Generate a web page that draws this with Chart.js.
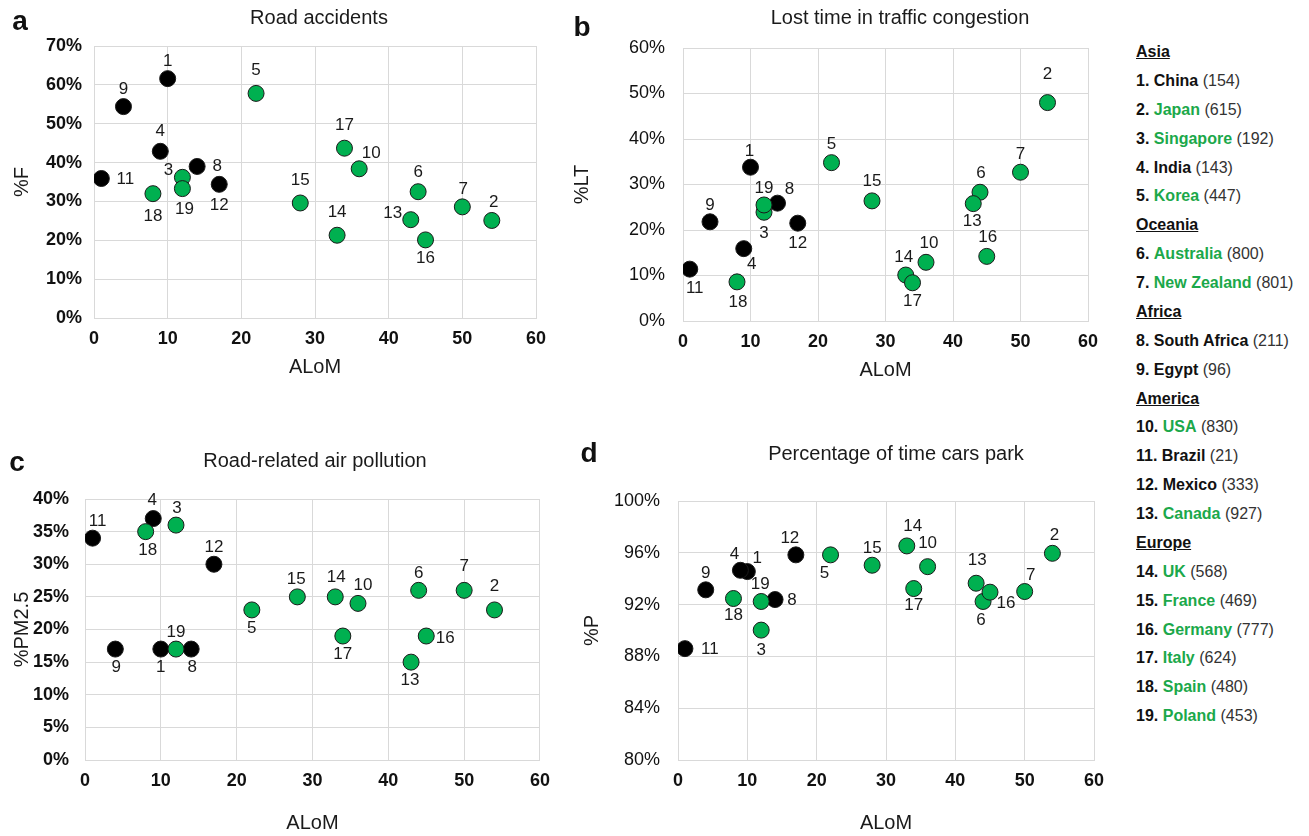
<!DOCTYPE html>
<html>
<head>
<meta charset="utf-8">
<script src="https://cdn.jsdelivr.net/npm/chart.js@4.4.0/dist/chart.umd.min.js"></script>
<style>
  body { margin: 0; background: #fff; font-family: "Liberation Sans", Arial, sans-serif; color: #111; }
  #page { position: relative; width: 1309px; height: 836px; overflow: hidden; }
  .box { position: absolute; }
  .letter { position: absolute; font-weight: bold; font-size: 28px; transform: translate(-50%, -50%); }
  .title { position: absolute; font-size: 20px; white-space: nowrap; transform: translate(-50%, -50%); color: #1a1a1a; }
  #legend { position: absolute; left: 1136px; top: 38px; font-size: 16px; line-height: 28.87px; white-space: nowrap; }
  #legend .head { font-weight: bold; text-decoration: underline; }
  #legend b.green { color: #1ba84a; }
  #legend span.n { color: #333; }
</style>
</head>
<body>
<div id="page">
  <div class="box" style="left:0;top:0;width:560px;height:400px"><canvas id="chartA"></canvas></div>
  <div class="box" style="left:560px;top:0;width:560px;height:400px"><canvas id="chartB"></canvas></div>
  <div class="box" style="left:0;top:420px;width:560px;height:416px"><canvas id="chartC"></canvas></div>
  <div class="box" style="left:560px;top:420px;width:560px;height:416px"><canvas id="chartD"></canvas></div>

  <div class="letter" style="left:20px;top:21px">a</div>
  <div class="letter" style="left:582px;top:27px">b</div>
  <div class="letter" style="left:17px;top:462px">c</div>
  <div class="letter" style="left:589px;top:453px">d</div>

  <div class="title" style="left:319px;top:17px">Road accidents</div>
  <div class="title" style="left:900px;top:17px">Lost time in traffic congestion</div>
  <div class="title" style="left:315px;top:460px">Road-related air pollution</div>
  <div class="title" style="left:896px;top:453px">Percentage of time cars park</div>

  <div id="legend"></div>
</div>

<script>
// countries 1..19
const countryNames = ['China', 'Japan', 'Singapore', 'India', 'Korea', 'Australia', 'New Zealand',
  'South Africa', 'Egypt', 'USA', 'Brazil', 'Mexico', 'Canada', 'UK', 'France', 'Germany',
  'Italy', 'Spain', 'Poland'];
const countryCounts = [154, 615, 192, 143, 447, 800, 801, 211, 96, 830, 21, 333, 927, 568, 469, 777, 624, 480, 453];
const greenCountry = [false, true, true, false, true, true, true, false, false, true, false, false,
  true, true, true, true, true, true, true];
const regionNames = ['Asia', 'Oceania', 'Africa', 'America', 'Europe'];
const regionFirst = [1, 6, 8, 10, 14];

// x values (ALoM) and the four y series (in %)
const aLoM = [10, 54, 12, 9, 22, 44, 50, 14, 4, 36, 1, 17, 43, 33, 28, 45, 34, 8, 12];
const roadAccidents = [61.6, 25.1, 36.2, 42.9, 57.8, 32.5, 28.6, 39.0, 54.4, 38.4, 35.9, 34.4, 25.3, 21.3, 29.6, 20.1, 43.7, 32.0, 33.3];
const lostTime = [33.8, 48.0, 23.9, 15.9, 34.8, 28.3, 32.7, 25.9, 21.8, 12.9, 11.4, 21.5, 25.8, 10.1, 26.4, 14.2, 8.4, 8.6, 25.5];
const airPollution = [17, 23, 36, 37, 23, 26, 26, 17, 17, 24, 34, 30, 15, 25, 25, 19, 19, 35, 17];
const parkTime = [94.55, 95.96, 90.03, 94.65, 95.84, 92.24, 93.01, 92.39, 93.14, 94.93, 88.6, 95.84, 93.65, 96.53, 95.04, 92.96, 93.24, 92.47, 92.24];

// where each number label sits relative to its dot (px)
const labelPosA = [[0,-17],[2,-18],[-14,-7],[0,-20],[0,-23],[0,-19],[1,-18],[20,0],[0,-17],[12,-15],
  [24,1],[0,21],[-18,-6],[0,-23],[0,-23],[0,18],[0,-23],[0,23],[2,21]];
const labelPosB = [[-1,-16],[0,-28],[0,21],[8,16],[0,-18],[1,-19],[0,-18],[12,-14],[0,-16],[3,-19],
  [5,19],[0,20],[-1,18],[-2,-18],[0,-20],[1,-19],[0,19],[1,20],[0,-17]];
const labelPosC = [[0,18],[0,-24],[1,-17],[-1,-18],[0,18],[0,-17],[0,-24],[1,18],[1,18],[5,-18],
  [5,-17],[0,-17],[-1,18],[1,-20],[-1,-18],[19,2],[0,18],[2,19],[0,-17]];
const labelPosD = [[10,-13],[2,-18],[0,20],[-6,-16],[-6,18],[-2,19],[6,-16],[17,1],[0,-17],[0,-23],
  [25,1],[-6,-17],[1,-23],[6,-20],[0,-17],[16,11],[0,17],[0,17],[-1,-17]];

const GREEN = '#00b050';
const GRID = '#d9d9d9';
const FONT = '"Liberation Sans", Arial, sans-serif';

// legend list on the right
const legend = document.getElementById('legend');
let html = '';
for (let i = 0; i < countryNames.length; i++) {
  const r = regionFirst.indexOf(i + 1);
  if (r >= 0) html += '<div class="head">' + regionNames[r] + '</div>';
  html += '<div><b>' + (i + 1) + '.</b> <b class="' + (greenCountry[i] ? 'green' : '') + '">' +
    countryNames[i] + '</b> <span class="n">(' + countryCounts[i] + ')</span></div>';
}
legend.innerHTML = html;

// draws the country number next to each dot
const numberLabels = {
  id: 'numberLabels',
  afterDatasetsDraw(chart, args, opts) {
    const ctx = chart.ctx;
    const meta = chart.getDatasetMeta(0);
    ctx.save();
    ctx.font = '17px ' + FONT;
    ctx.fillStyle = '#1a1a1a';
    ctx.textAlign = 'center';
    ctx.textBaseline = 'middle';
    meta.data.forEach(function(pt, i) {
      const off = opts.pos[i];
      ctx.fillText(String(i + 1), pt.x + off[0], pt.y + off[1]);
    });
    ctx.restore();
  }
};

function makeChart(id, yValues, s) {
  const points = aLoM.map(function(x, i) { return {x: x, y: yValues[i]}; });
  return new Chart(document.getElementById(id), {
    type: 'scatter',
    data: {
      datasets: [{
        data: points,
        backgroundColor: greenCountry.map(function(g) { return g ? GREEN : '#000'; }),
        borderColor: '#1a1a1a',
        borderWidth: 1,
        pointRadius: 8,
        pointHoverRadius: 8
      }]
    },
    plugins: [numberLabels],
    options: {
      responsive: true,
      maintainAspectRatio: false,
      animation: false,
      layout: { padding: { top: s.top, right: s.right, bottom: 0, left: 0 } },
      plugins: {
        legend: { display: false },
        tooltip: { enabled: false },
        numberLabels: { pos: s.labels }
      },
      scales: {
        x: {
          min: 0, max: 60,
          ticks: { stepSize: 10, padding: 10, color: '#111', font: { family: FONT, size: 18, weight: 'bold' } },
          grid: { color: GRID, drawTicks: false },
          border: { color: GRID },
          title: { display: true, text: 'ALoM', color: '#1a1a1a', font: { family: FONT, size: 20 }, padding: { top: 0, bottom: s.xTitlePad } },
          afterFit: function(scale) { scale.height = s.xHeight; }
        },
        y: {
          min: s.yMin, max: s.yMax,
          ticks: {
            stepSize: s.yStep, padding: s.yTickPad, color: '#111',
            font: { family: FONT, size: 18, weight: s.yBold ? 'bold' : 'normal' },
            callback: function(v) { return v + '%'; }
          },
          grid: { color: GRID, drawTicks: false },
          border: { color: GRID },
          title: { display: true, text: s.yTitle, color: '#1a1a1a', font: { family: FONT, size: 20 }, padding: { top: s.yTitlePad, bottom: 0 } },
          afterFit: function(scale) { scale.width = s.yWidth; }
        }
      }
    }
  });
}

makeChart('chartA', roadAccidents, {
  top: 46, right: 24, xHeight: 82, yWidth: 94, yMin: 0, yMax: 70, yStep: 10,
  yTickPad: 12, yBold: true, yTitle: '%F', yTitlePad: 10, xTitlePad: 21, labels: labelPosA
});
makeChart('chartB', lostTime, {
  top: 48, right: 32, xHeight: 79, yWidth: 123, yMin: 0, yMax: 60, yStep: 10,
  yTickPad: 18, yBold: false, yTitle: '%LT', yTitlePad: 10, xTitlePad: 18, labels: labelPosB
});
makeChart('chartC', airPollution, {
  top: 79, right: 18, xHeight: 76, yWidth: 85, yMin: 0, yMax: 40, yStep: 5,
  yTickPad: 16, yBold: true, yTitle: '%PM2.5', yTitlePad: 10, xTitlePad: 1, labels: labelPosC
});
makeChart('chartD', parkTime, {
  top: 81, right: 26, xHeight: 76, yWidth: 118, yMin: 80, yMax: 100, yStep: 4,
  yTickPad: 18, yBold: false, yTitle: '%P', yTitlePad: 20, xTitlePad: 1, labels: labelPosD
});
</script>
</body>
</html>
